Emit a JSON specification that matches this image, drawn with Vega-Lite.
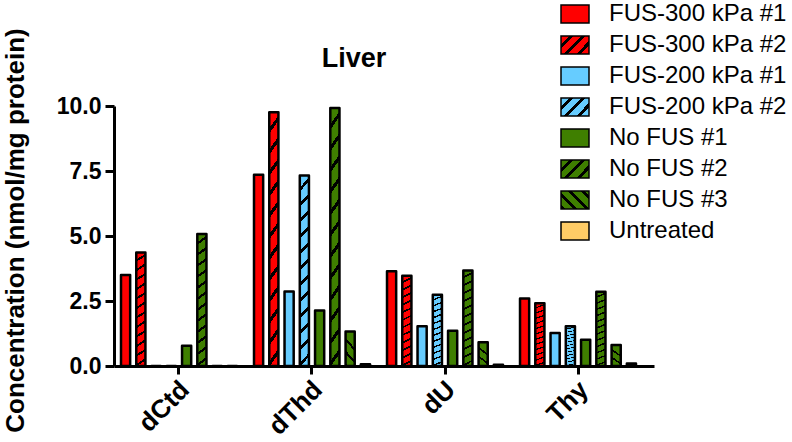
{
  "$schema": "https://vega.github.io/schema/vega-lite/v6.json",
  "autosize": {"type": "none"},
  "padding": {"left": 114, "top": 106, "right": 138, "bottom": 76},
  "width": 540,
  "height": 260,
  "background": "white",
  "title": {"text": "Liver", "font": "Liberation Sans", "fontSize": 27, "fontWeight": "bold", "color": "black", "anchor": "middle", "frame": "group", "offset": 0, "dy": 92, "dx": -30, "baseline": "alphabetic"},
  "data": {"values": [
    {"nucleoside": "dCtd", "series": "FUS-300 kPa #1", "value": 3.5},
    {"nucleoside": "dCtd", "series": "FUS-300 kPa #2", "value": 4.37},
    {"nucleoside": "dCtd", "series": "FUS-200 kPa #1", "value": 0},
    {"nucleoside": "dCtd", "series": "FUS-200 kPa #2", "value": 0},
    {"nucleoside": "dCtd", "series": "No FUS #1", "value": 0.78},
    {"nucleoside": "dCtd", "series": "No FUS #2", "value": 5.08},
    {"nucleoside": "dCtd", "series": "No FUS #3", "value": 0},
    {"nucleoside": "dCtd", "series": "Untreated", "value": 0},
    {"nucleoside": "dThd", "series": "FUS-300 kPa #1", "value": 7.36},
    {"nucleoside": "dThd", "series": "FUS-300 kPa #2", "value": 9.76},
    {"nucleoside": "dThd", "series": "FUS-200 kPa #1", "value": 2.87},
    {"nucleoside": "dThd", "series": "FUS-200 kPa #2", "value": 7.33},
    {"nucleoside": "dThd", "series": "No FUS #1", "value": 2.13},
    {"nucleoside": "dThd", "series": "No FUS #2", "value": 9.92},
    {"nucleoside": "dThd", "series": "No FUS #3", "value": 1.33},
    {"nucleoside": "dThd", "series": "Untreated", "value": 0.07},
    {"nucleoside": "dU", "series": "FUS-300 kPa #1", "value": 3.64},
    {"nucleoside": "dU", "series": "FUS-300 kPa #2", "value": 3.47},
    {"nucleoside": "dU", "series": "FUS-200 kPa #1", "value": 1.53},
    {"nucleoside": "dU", "series": "FUS-200 kPa #2", "value": 2.74},
    {"nucleoside": "dU", "series": "No FUS #1", "value": 1.36},
    {"nucleoside": "dU", "series": "No FUS #2", "value": 3.67},
    {"nucleoside": "dU", "series": "No FUS #3", "value": 0.91},
    {"nucleoside": "dU", "series": "Untreated", "value": 0.05},
    {"nucleoside": "Thy", "series": "FUS-300 kPa #1", "value": 2.6},
    {"nucleoside": "Thy", "series": "FUS-300 kPa #2", "value": 2.41},
    {"nucleoside": "Thy", "series": "FUS-200 kPa #1", "value": 1.27},
    {"nucleoside": "Thy", "series": "FUS-200 kPa #2", "value": 1.53},
    {"nucleoside": "Thy", "series": "No FUS #1", "value": 1.01},
    {"nucleoside": "Thy", "series": "No FUS #2", "value": 2.86},
    {"nucleoside": "Thy", "series": "No FUS #3", "value": 0.81},
    {"nucleoside": "Thy", "series": "Untreated", "value": 0.1}
  ]},
  "mark": {"type": "bar", "stroke": "black", "strokeWidth": 2.5, "strokeJoin": "round"},
  "encoding": {
    "x": {"field": "nucleoside", "type": "nominal", "sort": ["dCtd", "dThd", "dU", "Thy"],
      "scale": {"paddingInner": 0.128, "paddingOuter": 0.094, "align": 0.28},
      "axis": {"title": null, "labelAngle": -45, "labelFont": "Liberation Sans", "labelFontSize": 26, "labelFontWeight": "bold", "labelColor": "black", "labelPadding": 2, "labelOffset": -3, "tickSize": 8, "tickWidth": 3, "tickColor": "black", "domainWidth": 3, "domainColor": "black", "grid": false}},
    "xOffset": {"field": "series", "type": "nominal", "sort": ["FUS-300 kPa #1", "FUS-300 kPa #2", "FUS-200 kPa #1", "FUS-200 kPa #2", "No FUS #1", "No FUS #2", "No FUS #3", "Untreated"],
      "scale": {"paddingInner": 0.4, "paddingOuter": 0}},
    "y": {"field": "value", "type": "quantitative",
      "scale": {"domain": [0, 10], "nice": false},
      "axis": {"title": "Concentration (nmol/mg protein)", "values": [0, 2.5, 5, 7.5, 10], "format": ".1f", "labelFont": "Liberation Sans", "labelFontSize": 23, "labelFontWeight": "bold", "labelColor": "black", "labelPadding": 4, "labelOverlap": false, "tickSize": 9, "tickWidth": 3, "tickColor": "black", "domainWidth": 3, "domainColor": "black", "grid": false,
        "titleFont": "Liberation Sans", "titleFontSize": 26, "titleFontWeight": "bold", "titleColor": "black", "titleAngle": 270, "titleAlign": "center", "titleBaseline": "middle", "titleX": -99, "titleY": 124}},
    "fill": {"field": "series", "type": "nominal",
      "scale": {"domain": ["FUS-300 kPa #1", "FUS-300 kPa #2", "FUS-200 kPa #1", "FUS-200 kPa #2", "No FUS #1", "No FUS #2", "No FUS #3", "Untreated"],
        "range": [
          "#ff0000",
          {"expr": "{gradient:'linear',x1:0,y1:0,x2:1.56,y2:1,stops:[{offset:0,color:'#ff0000'},{offset:0.135,color:'#ff0000'},{offset:0.135,color:'#000000'},{offset:0.2,color:'#000000'},{offset:0.2,color:'#ff0000'},{offset:0.335,color:'#ff0000'},{offset:0.335,color:'#000000'},{offset:0.4,color:'#000000'},{offset:0.4,color:'#ff0000'},{offset:0.535,color:'#ff0000'},{offset:0.535,color:'#000000'},{offset:0.6,color:'#000000'},{offset:0.6,color:'#ff0000'},{offset:0.735,color:'#ff0000'},{offset:0.735,color:'#000000'},{offset:0.8,color:'#000000'},{offset:0.8,color:'#ff0000'},{offset:1,color:'#ff0000'}]}"},
          "#66ccff",
          {"expr": "{gradient:'linear',x1:0,y1:0,x2:1.56,y2:1,stops:[{offset:0,color:'#66ccff'},{offset:0.135,color:'#66ccff'},{offset:0.135,color:'#000000'},{offset:0.2,color:'#000000'},{offset:0.2,color:'#66ccff'},{offset:0.335,color:'#66ccff'},{offset:0.335,color:'#000000'},{offset:0.4,color:'#000000'},{offset:0.4,color:'#66ccff'},{offset:0.535,color:'#66ccff'},{offset:0.535,color:'#000000'},{offset:0.6,color:'#000000'},{offset:0.6,color:'#66ccff'},{offset:0.735,color:'#66ccff'},{offset:0.735,color:'#000000'},{offset:0.8,color:'#000000'},{offset:0.8,color:'#66ccff'},{offset:1,color:'#66ccff'}]}"},
          "#3f7f00",
          {"expr": "{gradient:'linear',x1:0,y1:0,x2:1.56,y2:1,stops:[{offset:0,color:'#3f7f00'},{offset:0.135,color:'#3f7f00'},{offset:0.135,color:'#000000'},{offset:0.2,color:'#000000'},{offset:0.2,color:'#3f7f00'},{offset:0.335,color:'#3f7f00'},{offset:0.335,color:'#000000'},{offset:0.4,color:'#000000'},{offset:0.4,color:'#3f7f00'},{offset:0.535,color:'#3f7f00'},{offset:0.535,color:'#000000'},{offset:0.6,color:'#000000'},{offset:0.6,color:'#3f7f00'},{offset:0.735,color:'#3f7f00'},{offset:0.735,color:'#000000'},{offset:0.8,color:'#000000'},{offset:0.8,color:'#3f7f00'},{offset:1,color:'#3f7f00'}]}"},
          {"expr": "{gradient:'linear',x1:1.56,y1:0,x2:0,y2:1,stops:[{offset:0,color:'#3f7f00'},{offset:0.335,color:'#3f7f00'},{offset:0.335,color:'#000000'},{offset:0.4,color:'#000000'},{offset:0.4,color:'#3f7f00'},{offset:0.535,color:'#3f7f00'},{offset:0.535,color:'#000000'},{offset:0.6,color:'#000000'},{offset:0.6,color:'#3f7f00'},{offset:0.735,color:'#3f7f00'},{offset:0.735,color:'#000000'},{offset:0.8,color:'#000000'},{offset:0.8,color:'#3f7f00'},{offset:0.935,color:'#3f7f00'},{offset:0.935,color:'#000000'},{offset:1,color:'#000000'}]}"},
          "#ffcc66"
        ]},
      "condition": [
        {"test": "datum.series === 'FUS-300 kPa #2'", "value": {"gradient": "linear", "x1": 0, "y1": 0, "x2": 0.05, "y2": 1, "stops": [
          {"offset": 0, "color": "#ff0000"}, {"offset": 0.0625, "color": "#ff0000"}, {"offset": 0.0625, "color": "#000000"}, {"offset": 0.0833, "color": "#000000"},
          {"offset": 0.0833, "color": "#ff0000"}, {"offset": 0.1458, "color": "#ff0000"}, {"offset": 0.1458, "color": "#000000"}, {"offset": 0.1667, "color": "#000000"},
          {"offset": 0.1667, "color": "#ff0000"}, {"offset": 0.2292, "color": "#ff0000"}, {"offset": 0.2292, "color": "#000000"}, {"offset": 0.25, "color": "#000000"},
          {"offset": 0.25, "color": "#ff0000"}, {"offset": 0.3125, "color": "#ff0000"}, {"offset": 0.3125, "color": "#000000"}, {"offset": 0.3333, "color": "#000000"},
          {"offset": 0.3333, "color": "#ff0000"}, {"offset": 0.3958, "color": "#ff0000"}, {"offset": 0.3958, "color": "#000000"}, {"offset": 0.4167, "color": "#000000"},
          {"offset": 0.4167, "color": "#ff0000"}, {"offset": 0.4792, "color": "#ff0000"}, {"offset": 0.4792, "color": "#000000"}, {"offset": 0.5, "color": "#000000"},
          {"offset": 0.5, "color": "#ff0000"}, {"offset": 0.5625, "color": "#ff0000"}, {"offset": 0.5625, "color": "#000000"}, {"offset": 0.5833, "color": "#000000"},
          {"offset": 0.5833, "color": "#ff0000"}, {"offset": 0.6458, "color": "#ff0000"}, {"offset": 0.6458, "color": "#000000"}, {"offset": 0.6667, "color": "#000000"},
          {"offset": 0.6667, "color": "#ff0000"}, {"offset": 0.7292, "color": "#ff0000"}, {"offset": 0.7292, "color": "#000000"}, {"offset": 0.75, "color": "#000000"},
          {"offset": 0.75, "color": "#ff0000"}, {"offset": 0.8125, "color": "#ff0000"}, {"offset": 0.8125, "color": "#000000"}, {"offset": 0.8333, "color": "#000000"},
          {"offset": 0.8333, "color": "#ff0000"}, {"offset": 0.8958, "color": "#ff0000"}, {"offset": 0.8958, "color": "#000000"}, {"offset": 0.9167, "color": "#000000"},
          {"offset": 0.9167, "color": "#ff0000"}, {"offset": 0.9792, "color": "#ff0000"}, {"offset": 0.9792, "color": "#000000"}, {"offset": 1, "color": "#000000"}, {"offset": 1, "color": "#ff0000"}
        ]}},
        {"test": "datum.series === 'FUS-200 kPa #2'", "value": {"gradient": "linear", "x1": 0, "y1": 0, "x2": 0.05, "y2": 1, "stops": [
          {"offset": 0, "color": "#66ccff"}, {"offset": 0.0625, "color": "#66ccff"}, {"offset": 0.0625, "color": "#000000"}, {"offset": 0.0833, "color": "#000000"},
          {"offset": 0.0833, "color": "#66ccff"}, {"offset": 0.1458, "color": "#66ccff"}, {"offset": 0.1458, "color": "#000000"}, {"offset": 0.1667, "color": "#000000"},
          {"offset": 0.1667, "color": "#66ccff"}, {"offset": 0.2292, "color": "#66ccff"}, {"offset": 0.2292, "color": "#000000"}, {"offset": 0.25, "color": "#000000"},
          {"offset": 0.25, "color": "#66ccff"}, {"offset": 0.3125, "color": "#66ccff"}, {"offset": 0.3125, "color": "#000000"}, {"offset": 0.3333, "color": "#000000"},
          {"offset": 0.3333, "color": "#66ccff"}, {"offset": 0.3958, "color": "#66ccff"}, {"offset": 0.3958, "color": "#000000"}, {"offset": 0.4167, "color": "#000000"},
          {"offset": 0.4167, "color": "#66ccff"}, {"offset": 0.4792, "color": "#66ccff"}, {"offset": 0.4792, "color": "#000000"}, {"offset": 0.5, "color": "#000000"},
          {"offset": 0.5, "color": "#66ccff"}, {"offset": 0.5625, "color": "#66ccff"}, {"offset": 0.5625, "color": "#000000"}, {"offset": 0.5833, "color": "#000000"},
          {"offset": 0.5833, "color": "#66ccff"}, {"offset": 0.6458, "color": "#66ccff"}, {"offset": 0.6458, "color": "#000000"}, {"offset": 0.6667, "color": "#000000"},
          {"offset": 0.6667, "color": "#66ccff"}, {"offset": 0.7292, "color": "#66ccff"}, {"offset": 0.7292, "color": "#000000"}, {"offset": 0.75, "color": "#000000"},
          {"offset": 0.75, "color": "#66ccff"}, {"offset": 0.8125, "color": "#66ccff"}, {"offset": 0.8125, "color": "#000000"}, {"offset": 0.8333, "color": "#000000"},
          {"offset": 0.8333, "color": "#66ccff"}, {"offset": 0.8958, "color": "#66ccff"}, {"offset": 0.8958, "color": "#000000"}, {"offset": 0.9167, "color": "#000000"},
          {"offset": 0.9167, "color": "#66ccff"}, {"offset": 0.9792, "color": "#66ccff"}, {"offset": 0.9792, "color": "#000000"}, {"offset": 1, "color": "#000000"}, {"offset": 1, "color": "#66ccff"}
        ]}},
        {"test": "datum.series === 'No FUS #2'", "value": {"gradient": "linear", "x1": 0, "y1": 0, "x2": 0.05, "y2": 1, "stops": [
          {"offset": 0, "color": "#3f7f00"}, {"offset": 0.0625, "color": "#3f7f00"}, {"offset": 0.0625, "color": "#000000"}, {"offset": 0.0833, "color": "#000000"},
          {"offset": 0.0833, "color": "#3f7f00"}, {"offset": 0.1458, "color": "#3f7f00"}, {"offset": 0.1458, "color": "#000000"}, {"offset": 0.1667, "color": "#000000"},
          {"offset": 0.1667, "color": "#3f7f00"}, {"offset": 0.2292, "color": "#3f7f00"}, {"offset": 0.2292, "color": "#000000"}, {"offset": 0.25, "color": "#000000"},
          {"offset": 0.25, "color": "#3f7f00"}, {"offset": 0.3125, "color": "#3f7f00"}, {"offset": 0.3125, "color": "#000000"}, {"offset": 0.3333, "color": "#000000"},
          {"offset": 0.3333, "color": "#3f7f00"}, {"offset": 0.3958, "color": "#3f7f00"}, {"offset": 0.3958, "color": "#000000"}, {"offset": 0.4167, "color": "#000000"},
          {"offset": 0.4167, "color": "#3f7f00"}, {"offset": 0.4792, "color": "#3f7f00"}, {"offset": 0.4792, "color": "#000000"}, {"offset": 0.5, "color": "#000000"},
          {"offset": 0.5, "color": "#3f7f00"}, {"offset": 0.5625, "color": "#3f7f00"}, {"offset": 0.5625, "color": "#000000"}, {"offset": 0.5833, "color": "#000000"},
          {"offset": 0.5833, "color": "#3f7f00"}, {"offset": 0.6458, "color": "#3f7f00"}, {"offset": 0.6458, "color": "#000000"}, {"offset": 0.6667, "color": "#000000"},
          {"offset": 0.6667, "color": "#3f7f00"}, {"offset": 0.7292, "color": "#3f7f00"}, {"offset": 0.7292, "color": "#000000"}, {"offset": 0.75, "color": "#000000"},
          {"offset": 0.75, "color": "#3f7f00"}, {"offset": 0.8125, "color": "#3f7f00"}, {"offset": 0.8125, "color": "#000000"}, {"offset": 0.8333, "color": "#000000"},
          {"offset": 0.8333, "color": "#3f7f00"}, {"offset": 0.8958, "color": "#3f7f00"}, {"offset": 0.8958, "color": "#000000"}, {"offset": 0.9167, "color": "#000000"},
          {"offset": 0.9167, "color": "#3f7f00"}, {"offset": 0.9792, "color": "#3f7f00"}, {"offset": 0.9792, "color": "#000000"}, {"offset": 1, "color": "#000000"}, {"offset": 1, "color": "#3f7f00"}
        ]}},
        {"test": "datum.series === 'No FUS #3'", "value": {"gradient": "linear", "x1": 0.3, "y1": 0, "x2": 0, "y2": 1, "stops": [
          {"offset": 0, "color": "#3f7f00"}, {"offset": 0.25, "color": "#3f7f00"}, {"offset": 0.25, "color": "#000000"}, {"offset": 0.333, "color": "#000000"},
          {"offset": 0.333, "color": "#3f7f00"}, {"offset": 0.583, "color": "#3f7f00"}, {"offset": 0.583, "color": "#000000"}, {"offset": 0.667, "color": "#000000"},
          {"offset": 0.667, "color": "#3f7f00"}, {"offset": 0.917, "color": "#3f7f00"}, {"offset": 0.917, "color": "#000000"}, {"offset": 1, "color": "#000000"}, {"offset": 1, "color": "#3f7f00"}
        ]}}
      ],
      "legend": {"orient": "none", "legendX": 449, "legendY": -104, "title": null, "symbolType": "M-1.4,-0.9H1.4V0.9H-1.4Z", "symbolSize": 400, "labelFont": "Liberation Sans", "labelFontSize": 24, "labelColor": "black", "labelOffset": 22, "rowPadding": 7, "labelLimit": 400,
        "encode": {"symbols": {"update": {"stroke": {"value": "black"}, "strokeWidth": {"value": 2.5}, "strokeJoin": {"value": "round"}, "opacity": {"value": 1}, "fillOpacity": {"value": 1}}}}
      }
    }
  },
  "config": {"view": {"stroke": null}}
}
